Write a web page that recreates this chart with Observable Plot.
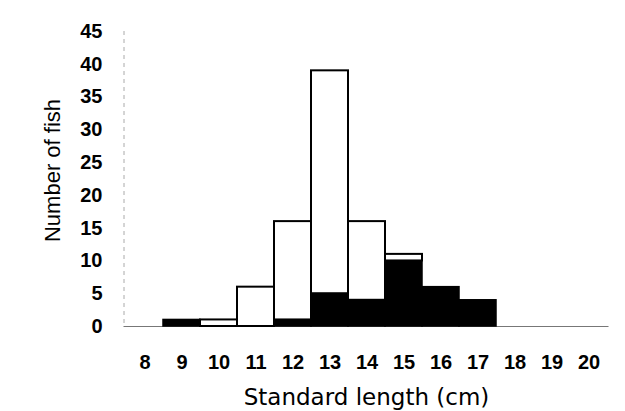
<!DOCTYPE html>
<html><head><meta charset="utf-8">
<script src="https://cdn.jsdelivr.net/npm/d3@7"></script>
<script src="https://cdn.jsdelivr.net/npm/@observablehq/plot@0.6"></script>
<style>body{margin:0;background:#fff}</style>
</head><body><div id="chart"></div>
<script>
// Standard length classes (cm)
const lengths = [8, 9, 10, 11, 12, 13, 14, 15, 16, 17, 18, 19, 20];
// Black (lower) part of each bar
const blackCounts = [0, 1, 0, 0, 1, 5, 4, 10, 6, 4, 0, 0, 0];
// White (upper) part of each bar
const whiteCounts = [0, 0, 1, 6, 15, 34, 12, 1, 0, 0, 0, 0, 0];
// Y-axis tick labels
const yTicks = [0, 5, 10, 15, 20, 25, 30, 35, 40, 45];

const blackRows = lengths.map((l, i) => ({length: l, n: blackCounts[i]})).filter(d => d.n > 0);
const whiteRows = lengths.map((l, i) => ({length: l, base: blackCounts[i], top: blackCounts[i] + whiteCounts[i]})).filter(d => d.top > d.base);

const chart = Plot.plot({
  width: 625, height: 411,
  marginTop: 31, marginBottom: 85, marginLeft: 123.5, marginRight: 16.5,
  style: {fontFamily: "'Liberation Sans', Arial, sans-serif", fontSize: "20px", fontWeight: "bold", background: "#fff", color: "#000"},
  x: {type: "band", domain: lengths, padding: 0, label: null},
  y: {domain: [0, 45], label: null},
  marks: [
    Plot.frame({anchor: "left", stroke: "#aaa", strokeDasharray: "3,5"}),
    Plot.ruleY([0], {stroke: "#777", strokeWidth: 1.2}),
    Plot.barY(blackRows, {x: "length", y1: 0, y2: "n", fill: "#000", stroke: "#000", strokeWidth: 1.5}),
    Plot.barY(whiteRows, {x: "length", y1: "base", y2: "top", fill: "#fff", stroke: "#000", strokeWidth: 2}),
    Plot.axisX({ticks: lengths, tickSize: 0, tickPadding: 28, label: null}),
    Plot.axisY({ticks: yTicks, tickSize: 0, tickPadding: 21.5, label: null}),
    Plot.text(["Number of fish"], {frameAnchor: "left", textAnchor: "middle", rotate: -90, dx: -71.5, dy: -8.5, fontSize: 22, fontWeight: "normal"}),
    Plot.text(["Standard length (cm)"], {frameAnchor: "bottom", dy: 78, fontSize: 23, fontWeight: "normal", fontFamily: "'DejaVu Sans', sans-serif"})
  ]
});
document.getElementById("chart").appendChild(chart);
</script>
</body></html>
